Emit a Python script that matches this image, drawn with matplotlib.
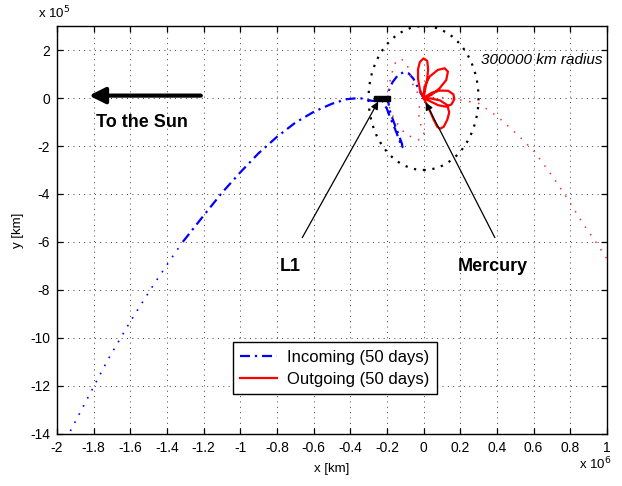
import matplotlib
matplotlib.use("Agg")
import matplotlib.pyplot as plt
from matplotlib.patches import Ellipse, Rectangle

plt.rcParams['font.family'] = ['Liberation Sans', 'DejaVu Sans']

# Units: x in 1e6 km, y in 1e5 km (Mercury at the origin)
# Incoming trajectory, far (sparsely sampled) part
in_far_x = [-1.927, -1.822, -1.722, -1.595, -1.477, -1.376, -1.313]
in_far_y = [-13.875, -12.35, -10.90, -9.25, -7.83, -6.68, -5.99]
# Incoming trajectory, approach through L1 and capture
in_near_x = [-1.313, -1.20, -1.10, -1.00, -0.90, -0.80, -0.70, -0.60, -0.50,
             -0.42, -0.35, -0.28, -0.225, -0.200, -0.180, -0.155, -0.135,
             -0.120, -0.115, -0.118, -0.140, -0.165, -0.185, -0.195, -0.190, -0.170,
             -0.140, -0.110, -0.080, -0.055, -0.035, -0.015, 0.0]
in_near_y = [-5.99, -4.90, -3.95, -3.10, -2.30, -1.62, -1.03, -0.58, -0.24,
             -0.05, 0.0, -0.12, -0.10, -0.45, -0.85, -1.30, -1.70,
             -2.00, -2.05, -1.90, -1.45, -0.95, -0.50, -0.05, 0.30, 0.65,
             0.95, 1.07, 1.02, 0.80, 0.50, 0.20, 0.0]

# Outgoing trajectory: captured loops around Mercury
out_loop_x = [0.0, -0.020, -0.030, -0.030, -0.020, 0.0, 0.020, 0.025, 0.020, 0.010, 0.0,
              0.005, 0.033, 0.078, 0.115, 0.133, 0.124, 0.087, 0.042, 0.0,
              0.045, 0.090, 0.135, 0.163, 0.168, 0.152, 0.120, 0.080, 0.040, 0.0,
              0.030, 0.055, 0.075, 0.090, 0.110, 0.130, 0.140, 0.130, 0.090, 0.040, 0.0]
out_loop_y = [0.0, 0.35, 0.80, 1.20, 1.50, 1.65, 1.55, 1.20, 0.80, 0.40, 0.0,
              0.47, 0.89, 1.17, 1.24, 1.10, 0.75, 0.40, 0.125, 0.0,
              0.22, 0.31, 0.30, 0.15, -0.05, -0.27, -0.36, -0.30, -0.15, 0.0,
              -0.45, -0.90, -1.20, -1.28, -1.20, -0.90, -0.60, -0.30, -0.10, -0.02, 0.0]
# Outgoing trajectory: sparsely sampled arc around Mercury
out_arc_x = [0.0, -0.030, -0.020, 0.005, -0.030, -0.100, -0.160, -0.195, -0.190,
             -0.170, -0.150, -0.120, -0.090, -0.070, -0.050, 0.0]
out_arc_y = [0.0, -0.50, -1.00, -1.55, -1.75, -1.50, -0.90, -0.20, 0.50,
             1.10, 1.55, 1.62, 1.40, 0.90, 0.35, 0.0]
# Outgoing trajectory: departure tail
out_tail_x = [0.0, 0.10, 0.20, 0.30, 0.405, 0.524, 0.605, 0.705, 0.778, 0.869, 0.933, 0.987, 1.03]
out_tail_y = [0.0, 0.02, -0.08, -0.22, -0.78, -1.61, -2.24, -3.28, -4.11, -5.22, -5.92, -6.54, -7.05]

# Points of interest
l1_x, l1_y = -0.227, -0.015
l1_w, l1_h = 0.09, 0.19
soi_radius_x, soi_radius_y = 0.3, 3.0   # 300000 km

x_ticks = [-2, -1.8, -1.6, -1.4, -1.2, -1, -0.8, -0.6, -0.4, -0.2, 0, 0.2, 0.4, 0.6, 0.8, 1]
x_tick_labels = ['-2', '-1.8', '-1.6', '-1.4', '-1.2', '-1', '-0.8', '-0.6', '-0.4',
                 '-0.2', '0', '0.2', '0.4', '0.6', '0.8', '1']
y_ticks = [-14, -12, -10, -8, -6, -4, -2, 0, 2]
y_tick_labels = ['-14', '-12', '-10', '-8', '-6', '-4', '-2', '0', '2']

fig = plt.figure(figsize=(6.22, 4.86), dpi=100)
ax = fig.add_axes([0.0916, 0.107, 0.884, 0.8395])

ax.set_xlim(-2, 1)
ax.set_ylim(-14, 3)
ax.set_xticks(x_ticks)
ax.set_xticklabels(x_tick_labels)
ax.set_yticks(y_ticks)
ax.set_yticklabels(y_tick_labels)
ax.tick_params(direction='in', top=True, right=True, length=4, width=0.9,
               labelsize=10, pad=5)
for s in ax.spines.values():
    s.set_linewidth(1.0)
ax.grid(True, linestyle=(0, (1, 4.5)), color='0.25', linewidth=0.7)
ax.set_axisbelow(True)

# Sphere of influence circle
ax.add_patch(Ellipse((0, 0), 2 * soi_radius_x, 2 * soi_radius_y, fill=False,
                     edgecolor='k', linestyle=(0, (1, 3)), linewidth=1.6, zorder=2))

# Trajectories
ax.plot(in_far_x, in_far_y, color='blue', linewidth=1.2, linestyle=(0, (1, 4.5)), zorder=3)
incoming, = ax.plot(in_near_x, in_near_y, color='blue', linewidth=1.6,
                    linestyle=(0, (4.5, 2.2, 1, 2.2)), zorder=3,
                    label='Incoming (50 days)')
ax.plot(out_arc_x, out_arc_y, color='#ff2a2a', linewidth=1.1, linestyle=(0, (1, 5)), zorder=3)
ax.plot(out_tail_x, out_tail_y, color='#ff2a2a', linewidth=1.1, linestyle=(0, (1, 5)), zorder=3)
outgoing, = ax.plot(out_loop_x, out_loop_y, color='red', linewidth=1.6, zorder=4,
                    label='Outgoing (50 days)')

# L1 marker
ax.add_patch(Rectangle((l1_x - l1_w / 2, l1_y - l1_h / 2), l1_w, l1_h,
                       facecolor='k', edgecolor='k', zorder=5))

# Annotations
ax.annotate('', xy=(-1.84, 0.1), xytext=(-1.2, 0.1),
            arrowprops=dict(arrowstyle='-|>', lw=3, mutation_scale=24, color='k'))
ax.text(-1.786, -1.02, 'To the Sun', fontsize=13, fontweight='bold', va='center', ha='left')

ax.annotate('', xy=(-0.24, -0.05), xytext=(-0.669, -5.92),
            arrowprops=dict(arrowstyle='-|>', lw=0.9, mutation_scale=11, color='k'),
            zorder=6)
ax.text(-0.726, -7.02, 'L1', fontsize=13, fontweight='bold', va='center', ha='center')

ax.annotate('', xy=(0.005, -0.08), xytext=(0.396, -5.92),
            arrowprops=dict(arrowstyle='-|>', lw=0.9, mutation_scale=11, color='k'),
            zorder=6)
ax.text(0.377, -7.04, 'Mercury', fontsize=13, fontweight='bold', va='center', ha='center')

ax.text(0.315, 1.58, '300000 km radius', fontsize=11, style='italic', va='center', ha='left')

# Axis labels and scale factors
ax.set_xlabel('x [km]', fontsize=9.5, labelpad=6)
ax.set_ylabel('y [km]', fontsize=9.5, labelpad=4)
ax.text(-0.035, 1.012, r'x 10$^5$', transform=ax.transAxes, fontsize=9.5,
        ha='left', va='bottom')
ax.text(1.009, -0.052, r'x 10$^6$', transform=ax.transAxes, fontsize=9.5,
        ha='right', va='top')

leg = ax.legend(handles=[incoming, outgoing], loc='lower left',
                bbox_to_anchor=(0.32, 0.098), fontsize=12, frameon=True,
                fancybox=False, edgecolor='k', framealpha=1, handlelength=2.2,
                borderpad=0.45, labelspacing=0.4, handletextpad=0.6, borderaxespad=0)
leg.get_frame().set_linewidth(1.0)

fig.savefig('out.png', dpi=100)
